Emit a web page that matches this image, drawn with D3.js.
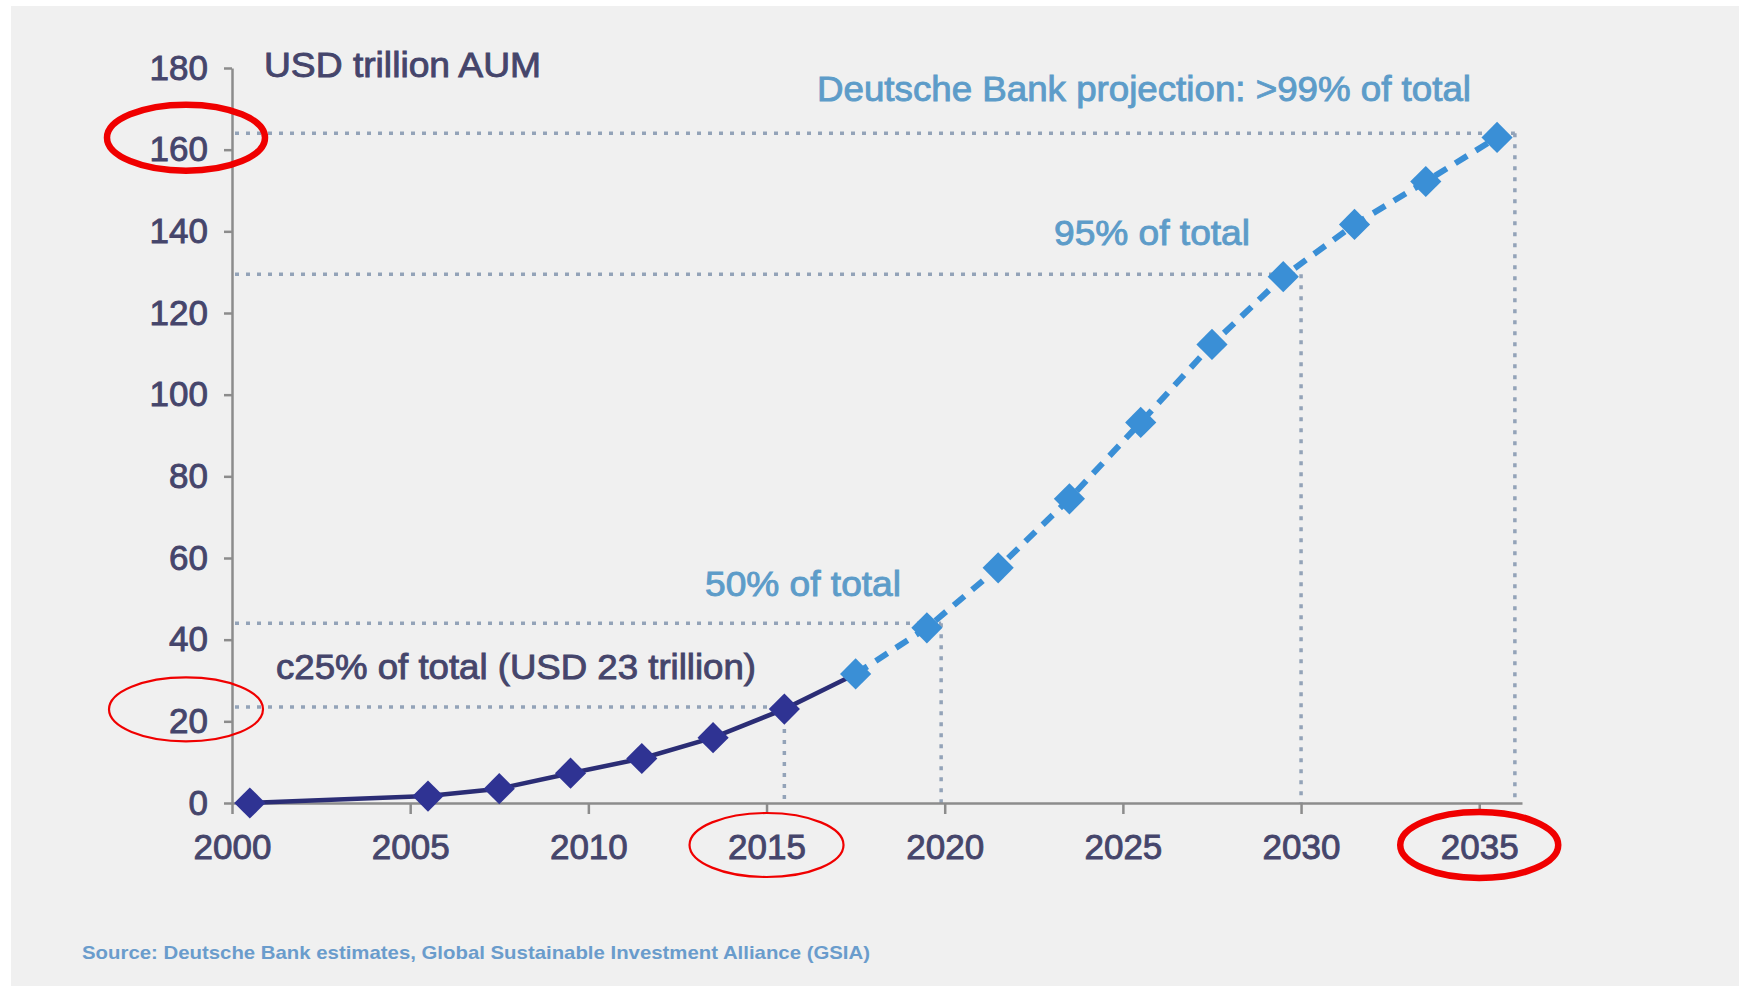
<!DOCTYPE html>
<html>
<head>
<meta charset="utf-8">
<script src="https://cdn.jsdelivr.net/npm/d3@7"></script>
<style>
  html, body { margin: 0; padding: 0; background: #ffffff; }
  svg { display: block; font-family: "Liberation Sans", Arial, sans-serif; }
</style>
</head>
<body>
<div id="chart"></div>
<script>
// historical AUM (dark, solid) and Deutsche Bank projection (light blue, dashed)
const histYears = [2000, 2005, 2007, 2009, 2011, 2013, 2015];
const histValues = [0, 1.7, 3.5, 7.3, 10.9, 16.0, 23.0];
const projYears = [2017, 2019, 2021, 2023, 2025, 2027, 2029, 2031, 2033, 2035];
const projValues = [31.6, 42.9, 57.6, 74.5, 93.2, 112.3, 128.9, 141.7, 152.2, 163.0];

const yTicks = [0, 20, 40, 60, 80, 100, 120, 140, 160, 180];
const xTicks = [2000, 2005, 2010, 2015, 2020, 2025, 2030, 2035];

// dotted guide lines: level and the year where it drops to the axis
const refLabels = ["c25% of total (USD 23 trillion)", "50% of total", "95% of total", "Deutsche Bank projection: >99% of total"];
const refValues = [23.5, 44, 129.5, 164];
const refYears = [2015.5, 2019.9, 2030, 2036];

const yLabel = "USD trillion AUM";
const sourceText = "Source: Deutsche Bank estimates, Global Sustainable Investment Alliance (GSIA)";

// red highlight rings: which tick they circle
const ringAxis = ["y", "y", "x", "x"];
const ringTick = [160, 20, 2015, 2035];
const ringBold = [true, false, false, true];

var W = 1739, H = 986;
var darkBlue = "#2f3393", lightBlue = "#3a8fd6", guide = "#93a3b8";
var textDark = "#45456b", textLight = "#5d9cc9";

var svg = d3.select("#chart").append("svg")
  .attr("width", W)
  .attr("height", H);

svg.append("rect")
  .attr("x", 11).attr("y", 6)
  .attr("width", W - 11).attr("height", H - 6)
  .attr("fill", "#f0f0f0");

var x = d3.scaleLinear().domain([2000, 2036.2]).range([232, 1522]);
var y = d3.scaleLinear().domain([0, 180]).range([803, 68]);

// points sit mid-year
var hist = histYears.map(function(d, i){ return {year: d + 0.5, value: histValues[i]}; });
var proj = projYears.map(function(d, i){ return {year: d + 0.5, value: projValues[i]}; });

// guide lines
refValues.forEach(function(v, i){
  svg.append("line")
    .attr("x1", x(2000) + 3).attr("x2", x(refYears[i]))
    .attr("y1", y(v)).attr("y2", y(v))
    .attr("stroke", guide).attr("stroke-width", 3.5)
    .attr("stroke-dasharray", "4,7");
  svg.append("line")
    .attr("x1", x(refYears[i])).attr("x2", x(refYears[i]))
    .attr("y1", y(v)).attr("y2", y(0))
    .attr("stroke", guide).attr("stroke-width", 3.5)
    .attr("stroke-dasharray", "4,7");
});

// axes
var yAxis = svg.append("g")
  .attr("transform", "translate(" + x(2000) + ",0)")
  .call(d3.axisLeft(y).tickValues(yTicks).tickSize(8).tickSizeOuter(0).tickPadding(16));

var xAxis = svg.append("g")
  .attr("transform", "translate(0," + y(0) + ")")
  .call(d3.axisBottom(x).tickValues(xTicks).tickFormat(d3.format("d")).tickSize(11).tickSizeOuter(0).tickPadding(20));

[yAxis, xAxis].forEach(function(g){
  g.select(".domain").attr("stroke", "#8c8c8c").attr("stroke-width", 2.5);
  g.selectAll(".tick line").attr("stroke", "#8c8c8c").attr("stroke-width", 2.5);
  g.selectAll(".tick text")
    .attr("fill", textDark)
    .attr("stroke", textDark)
    .attr("stroke-width", 0.9)
    .style("font-size", "35px")
    .style("font-family", "'Liberation Sans', Arial, sans-serif");
});

// lines
var line = d3.line()
  .x(function(d){ return x(d.year); })
  .y(function(d){ return y(d.value); });

svg.append("path")
  .datum(proj)
  .attr("d", line)
  .attr("fill", "none")
  .attr("stroke", lightBlue)
  .attr("stroke-width", 6)
  .attr("stroke-dasharray", "14,10");

svg.append("path")
  .datum(hist.concat([proj[0]]))
  .attr("d", line)
  .attr("fill", "none")
  .attr("stroke", "#2b2d75")
  .attr("stroke-width", 4.5);

var diamond = d3.symbol().type(d3.symbolDiamond2).size(620);

svg.selectAll(".proj")
  .data(proj)
  .enter()
  .append("path")
  .attr("class", "proj")
  .attr("d", diamond)
  .attr("transform", function(d){ return "translate(" + x(d.year) + "," + y(d.value) + ")"; })
  .attr("fill", lightBlue);

svg.selectAll(".hist")
  .data(hist)
  .enter()
  .append("path")
  .attr("class", "hist")
  .attr("d", diamond)
  .attr("transform", function(d){ return "translate(" + x(d.year) + "," + y(d.value) + ")"; })
  .attr("fill", darkBlue);

// text
svg.append("text")
  .attr("x", 264).attr("y", 77)
  .attr("fill", textDark)
  .attr("stroke", textDark)
  .attr("stroke-width", 0.9)
  .attr("textLength", 277)
  .attr("lengthAdjust", "spacingAndGlyphs")
  .style("font-size", "35px")
  .text(yLabel);

var labelX = [276, 705, 1054, 817];
var labelY = [679, 596, 245, 101];
var labelW = [480, 196, 196, 654];
refLabels.forEach(function(t, i){
  var c = i == 0 ? textDark : textLight;
  svg.append("text")
    .attr("x", labelX[i]).attr("y", labelY[i])
    .attr("fill", c)
    .attr("stroke", c)
    .attr("stroke-width", 0.9)
    .attr("textLength", labelW[i])
    .attr("lengthAdjust", "spacingAndGlyphs")
    .style("font-size", "35px")
    .text(t);
});

svg.append("text")
  .attr("x", 82).attr("y", 959)
  .attr("fill", "#6a9ccc")
  .attr("textLength", 788)
  .attr("lengthAdjust", "spacingAndGlyphs")
  .style("font-size", "19px")
  .style("font-weight", "bold")
  .text(sourceText);

// red rings
ringTick.forEach(function(t, i){
  var cx = ringAxis[i] == "y" ? 186 : x(t);
  var cy = ringAxis[i] == "y" ? y(t) - 12 : 845;
  svg.append("ellipse")
    .attr("cx", cx).attr("cy", cy)
    .attr("rx", ringBold[i] ? 79 : 77)
    .attr("ry", ringBold[i] ? 33 : 32)
    .attr("fill", "none")
    .attr("stroke", "#f00000")
    .attr("stroke-width", ringBold[i] ? 6.5 : 2.2);
});
</script>
</body>
</html>
